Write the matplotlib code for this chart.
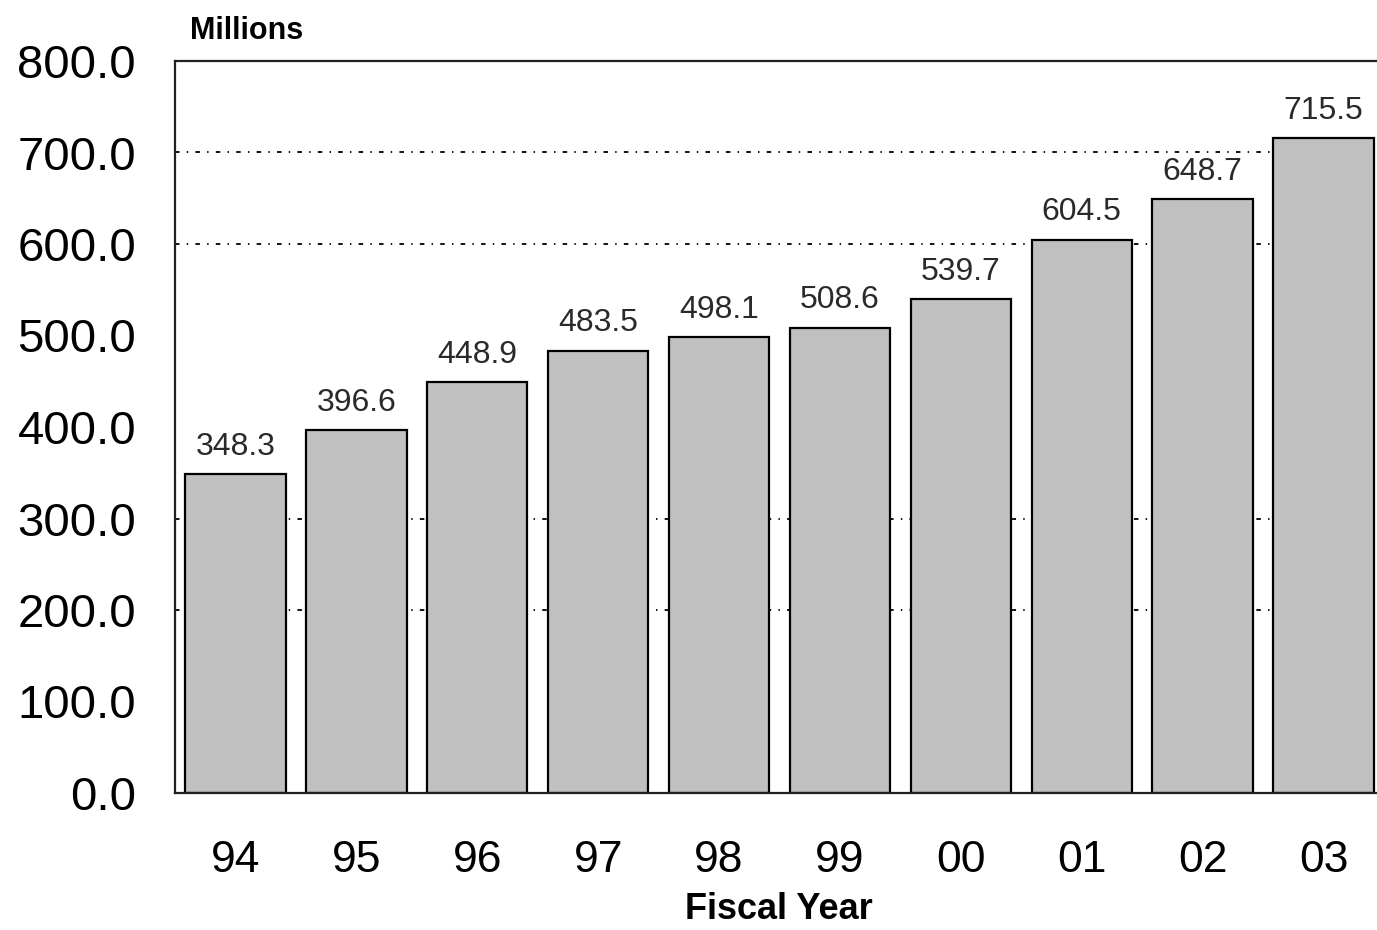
import matplotlib
matplotlib.use("Agg")
import matplotlib.pyplot as plt

years = ["94", "95", "96", "97", "98", "99", "00", "01", "02", "03"]
values = [348.3, 396.6, 448.9, 483.5, 498.1, 508.6, 539.7, 604.5, 648.7, 715.5]
yticks = [0, 100, 200, 300, 400, 500, 600, 700, 800]
grid_levels = [200, 300, 600, 700]

W, H = 1377, 930
fig = plt.figure(figsize=(W / 100, H / 100), dpi=100)
left, right, bottom, top = 175 / W, 1384 / W, 1 - 793 / H, 1 - 61 / H
ax = fig.add_axes([left, bottom, right - left, top - bottom])

font = "Liberation Sans"
x = list(range(len(years)))
for g in grid_levels:
    ax.axhline(g, color="black", lw=1.3, linestyle=(0, (2.5, 4, 0.8, 4)), zorder=1)

bars = ax.bar(x, values, width=0.83, color="#c0c0c0", edgecolor="black", linewidth=1.6, zorder=2)
for xi, v in zip(x, values):
    ax.annotate(f"{v:.1f}", (xi, v), xytext=(0, 9), textcoords="offset points",
                ha="center", va="bottom", fontsize=23, family=font, color="#2a2a2a")

ax.set_xlim(-0.5, len(years) - 0.5)
ax.set_ylim(0, 800)
ax.set_yticks(yticks)
ax.set_yticklabels([f"{t:.1f}" for t in yticks], fontsize=34, family=font)
ax.set_xticks(x)
ax.set_xticklabels(years, fontsize=32, family=font)
ax.tick_params(axis="y", length=0, pad=28)
ax.tick_params(axis="x", length=0, pad=34)
for s in ["left", "bottom", "top"]:
    ax.spines[s].set_linewidth(1.6)
    ax.spines[s].set_color("#222222")
ax.spines["right"].set_visible(False)

fig.text(190 / W, 1 - 31 / H, "Millions", fontsize=22, fontweight="bold", family=font,
         ha="left", va="center")
fig.text(779 / W, 3 / H, "Fiscal Year", fontsize=26, fontweight="bold", family=font,
         ha="center", va="bottom")

fig.savefig("out.png", dpi=100)
